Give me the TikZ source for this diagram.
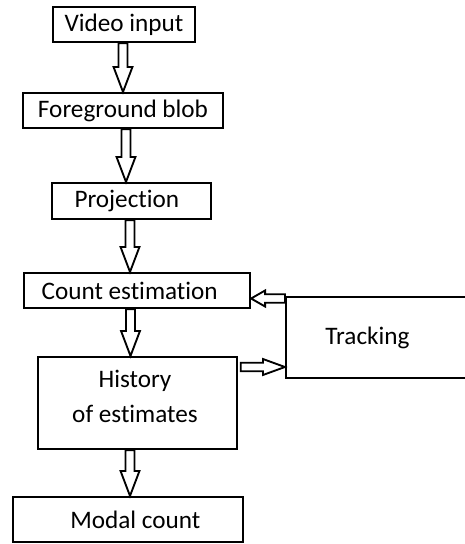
\documentclass[tikz,border=0pt]{standalone}
\usepackage{fontspec}
\setmainfont{Carlito}[Ligatures=NoCommon]
\usetikzlibrary{calc}

% hollow block arrow pointing down, from the bottom of #1 to the top of #2, at x = #3
\newcommand\blockdown[3]{%
  \draw[blockarrow] let \p1=(#1.south), \p2=(#2.north), \p3=(#3,0) in
    (\x3-3.4pt,\y1) -- (\x3-3.4pt,\y2+18.75pt) -- (\x3-7.1pt,\y2+18.75pt) -- (\x3,\y2)
    -- (\x3+7.1pt,\y2+18.75pt) -- (\x3+3.4pt,\y2+18.75pt) -- (\x3+3.4pt,\y1) -- cycle;}
% hollow block arrow pointing left, from the left side of #1 to the right side of #2, at y = #3
\newcommand\blockleft[3]{%
  \draw[blockarrow] let \p1=(#1.west), \p2=(#2.east), \p3=(0,#3) in
    (\x1,\y3+3.2pt) -- (\x2+10.5pt,\y3+3.2pt) -- (\x2+10.5pt,\y3+6pt) -- (\x2,\y3)
    -- (\x2+10.5pt,\y3-6pt) -- (\x2+10.5pt,\y3-3.2pt) -- (\x1,\y3-3.2pt) -- cycle;}
% hollow block arrow pointing right, from the right side of #1 to the left side of #2, at y = #3
\newcommand\blockright[3]{%
  \draw[blockarrow] let \p1=(#1.east), \p2=(#2.west), \p3=(0,#3) in
    (\x1+2pt,\y3+3.2pt) -- (\x2-16.5pt,\y3+3.2pt) -- (\x2-16.5pt,\y3+6pt) -- (\x2,\y3)
    -- (\x2-16.5pt,\y3-6pt) -- (\x2-16.5pt,\y3-3.2pt) -- (\x1+2pt,\y3-3.2pt) -- cycle;}
% pull a label a little to the left of its box centre
\newcommand\nudgeleft[1]{\hspace*{-#1}}

\begin{document}
\begin{tikzpicture}[x=0.75pt,y=-0.75pt,
  box/.style={draw, line width=1.6pt, inner sep=0pt, font=\fontsize{18.9}{22}\selectfont},
  boxtext/.style={inner sep=0pt, font=\fontsize{18.9}{26.25}\selectfont, align=center},
  blockarrow/.style={draw, line width=1.4pt, fill=white, line join=miter}]
\useasboundingbox (0,0) rectangle (465,544);

\node[box, minimum width=106.5pt, minimum height=26.25pt] (video) at (124,24.5) {Video input};
\node[box, minimum width=150pt,   minimum height=26.25pt] (fg)    at (123,110.5) {Foreground blob};
\node[box, minimum width=119.25pt,minimum height=27pt]    (proj)  at (131.5,201) {\nudgeleft{7pt}Projection};
\node[box, minimum width=169.5pt, minimum height=26.25pt] (count) at (137,290.5) {\nudgeleft{11pt}Count estimation};
\node[box, minimum width=139.5pt, minimum height=60.75pt] (track) at (379,337.5) {};
\node[boxtext] (tracklabel) at (367.5,337.5) {Tracking};
\node[box, minimum width=149.25pt,minimum height=69pt]    (hist)  at (137.5,403) {};
\node[boxtext] (histlabel) at (135,396) {History\\of estimates};
\node[box, minimum width=172.5pt, minimum height=33.75pt] (modal) at (128,519.5) {\hspace*{11pt}Modal count};

\blockdown{video}{fg}{123}
\blockdown{fg}{proj}{126}
\blockdown{proj}{count}{130}
\blockdown{count}{hist}{130.5}
\blockdown{hist}{modal}{130}
\blockleft{track}{count}{298.5}
\blockright{hist}{track}{367}
\end{tikzpicture}
\end{document}
